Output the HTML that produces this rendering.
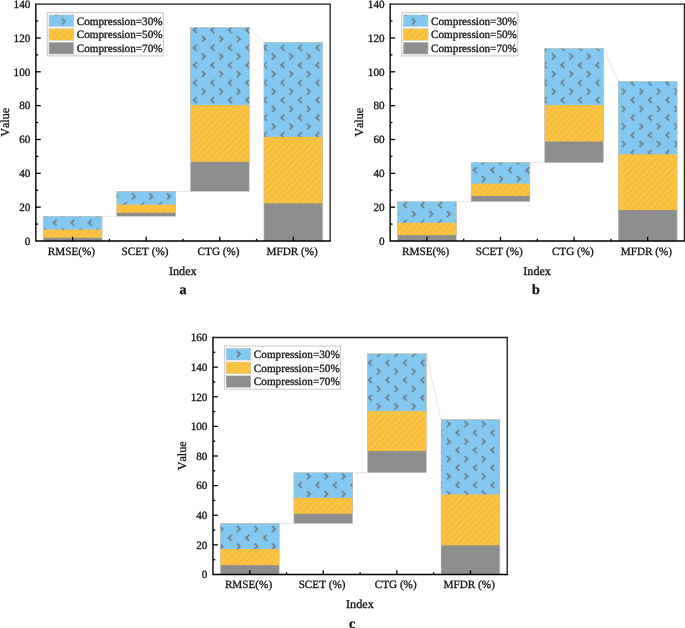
<!DOCTYPE html>
<html><head><meta charset="utf-8"><title>chart</title>
<style>html,body{margin:0;padding:0;background:#fff;}body{width:685px;height:628px;overflow:hidden;font-family:"Liberation Serif",serif;}svg{display:block;will-change:transform;}svg text{stroke:#111;stroke-width:0.3px;font-kerning:none;}</style>
</head><body>
<svg width="685" height="628" viewBox="0 0 685 628" font-family="'Liberation Serif', serif" fill="#111" text-rendering="geometricPrecision">
<defs>
<pattern id="chev" patternUnits="userSpaceOnUse" x="0" y="0" width="17.5" height="17.5">
<rect x="2.85" y="9.55" width="1.5" height="1.5" fill="#646464"/><rect x="1.65" y="10.75" width="1.5" height="1.5" fill="#646464"/><rect x="0.45" y="11.95" width="1.5" height="1.5" fill="#646464"/><rect x="1.65" y="13.15" width="1.5" height="1.5" fill="#646464"/><rect x="2.85" y="14.35" width="1.5" height="1.5" fill="#646464"/>
<rect x="9.35" y="0.85" width="1.5" height="1.5" fill="#646464"/><rect x="10.55" y="2.05" width="1.5" height="1.5" fill="#646464"/><rect x="11.75" y="3.25" width="1.5" height="1.5" fill="#646464"/><rect x="10.55" y="4.45" width="1.5" height="1.5" fill="#646464"/><rect x="9.35" y="5.65" width="1.5" height="1.5" fill="#646464"/>
</pattern>
<pattern id="hatch" patternUnits="userSpaceOnUse" x="0" y="0" width="6.68" height="6.68">
<path d="M-1 7.68 L7.68 -1 M-1 1 L1 -1 M5.68 7.68 L7.68 5.68" fill="none" stroke="#a69c82" stroke-width="0.5" stroke-opacity="0.85"/>
</pattern>
</defs>
<rect width="685" height="628" fill="#fff"/>
<line x1="102.07" y1="216.29" x2="116.78" y2="216.29" stroke="#dcdcdc" stroke-width="0.7"/>
<line x1="175.64" y1="191.42" x2="190.36" y2="191.42" stroke="#dcdcdc" stroke-width="0.7"/>
<line x1="249.22" y1="27.28" x2="263.93" y2="42.17" stroke="#dcdcdc" stroke-width="0.7"/>
<rect x="43.21" y="216.29" width="58.86" height="24.71" fill="#8E8E8E"/>
<rect x="43.21" y="216.29" width="58.86" height="21.49" fill="#FFC43C"/>
<rect x="43.21" y="216.29" width="58.86" height="13.28" fill="#82C8F0"/>
<rect x="43.21" y="229.58" width="58.86" height="8.21" fill="url(#hatch)"/>
<rect x="43.21" y="216.29" width="58.86" height="13.28" fill="url(#chev)"/>
<rect x="43.21" y="216.29" width="58.86" height="24.71" fill="none" stroke="#c8c8c8" stroke-width="0.5"/>
<rect x="116.78" y="191.42" width="58.86" height="24.87" fill="#8E8E8E"/>
<rect x="116.78" y="191.42" width="58.86" height="21.32" fill="#FFC43C"/>
<rect x="116.78" y="191.42" width="58.86" height="13.20" fill="#82C8F0"/>
<rect x="116.78" y="204.62" width="58.86" height="8.12" fill="url(#hatch)"/>
<rect x="116.78" y="191.42" width="58.86" height="13.20" fill="url(#chev)"/>
<rect x="116.78" y="191.42" width="58.86" height="24.87" fill="none" stroke="#c8c8c8" stroke-width="0.5"/>
<rect x="190.36" y="27.28" width="58.86" height="164.14" fill="#8E8E8E"/>
<rect x="190.36" y="27.28" width="58.86" height="134.53" fill="#FFC43C"/>
<rect x="190.36" y="27.28" width="58.86" height="77.84" fill="#82C8F0"/>
<rect x="190.36" y="105.12" width="58.86" height="56.69" fill="url(#hatch)"/>
<rect x="190.36" y="27.28" width="58.86" height="77.84" fill="url(#chev)"/>
<rect x="190.36" y="27.28" width="58.86" height="164.14" fill="none" stroke="#c8c8c8" stroke-width="0.5"/>
<rect x="263.93" y="42.17" width="58.86" height="198.83" fill="#8E8E8E"/>
<rect x="263.93" y="42.17" width="58.86" height="161.09" fill="#FFC43C"/>
<rect x="263.93" y="42.17" width="58.86" height="94.76" fill="#82C8F0"/>
<rect x="263.93" y="136.93" width="58.86" height="66.33" fill="url(#hatch)"/>
<rect x="263.93" y="42.17" width="58.86" height="94.76" fill="url(#chev)"/>
<rect x="263.93" y="42.17" width="58.86" height="198.83" fill="none" stroke="#c8c8c8" stroke-width="0.5"/>
<path d="M35.85 4.10 H330.15 V241.00" fill="none" stroke="#1a1a1a" stroke-width="1.3"/>
<path d="M35.85 3.45 V241.00 H330.80" fill="none" stroke="#000" stroke-width="1.4"/>
<text x="30.35" y="244.75" font-size="11.2" text-anchor="end">0</text>
<line x1="35.85" y1="224.08" x2="38.15" y2="224.08" stroke="#000" stroke-width="1.3"/>
<line x1="35.85" y1="207.16" x2="40.75" y2="207.16" stroke="#000" stroke-width="1.3"/>
<text x="30.35" y="210.91" font-size="11.2" text-anchor="end">20</text>
<line x1="35.85" y1="190.24" x2="38.15" y2="190.24" stroke="#000" stroke-width="1.3"/>
<line x1="35.85" y1="173.31" x2="40.75" y2="173.31" stroke="#000" stroke-width="1.3"/>
<text x="30.35" y="177.06" font-size="11.2" text-anchor="end">40</text>
<line x1="35.85" y1="156.39" x2="38.15" y2="156.39" stroke="#000" stroke-width="1.3"/>
<line x1="35.85" y1="139.47" x2="40.75" y2="139.47" stroke="#000" stroke-width="1.3"/>
<text x="30.35" y="143.22" font-size="11.2" text-anchor="end">60</text>
<line x1="35.85" y1="122.55" x2="38.15" y2="122.55" stroke="#000" stroke-width="1.3"/>
<line x1="35.85" y1="105.63" x2="40.75" y2="105.63" stroke="#000" stroke-width="1.3"/>
<text x="30.35" y="109.38" font-size="11.2" text-anchor="end">80</text>
<line x1="35.85" y1="88.71" x2="38.15" y2="88.71" stroke="#000" stroke-width="1.3"/>
<line x1="35.85" y1="71.79" x2="40.75" y2="71.79" stroke="#000" stroke-width="1.3"/>
<text x="30.35" y="75.54" font-size="11.2" text-anchor="end">100</text>
<line x1="35.85" y1="54.86" x2="38.15" y2="54.86" stroke="#000" stroke-width="1.3"/>
<line x1="35.85" y1="37.94" x2="40.75" y2="37.94" stroke="#000" stroke-width="1.3"/>
<text x="30.35" y="41.69" font-size="11.2" text-anchor="end">120</text>
<line x1="35.85" y1="21.02" x2="38.15" y2="21.02" stroke="#000" stroke-width="1.3"/>
<text x="30.35" y="7.85" font-size="11.2" text-anchor="end">140</text>
<line x1="72.64" y1="241.00" x2="72.64" y2="236.80" stroke="#000" stroke-width="1.3"/>
<text x="71.44" y="254.80" font-size="11.2" text-anchor="middle">RMSE(%)</text>
<line x1="109.43" y1="241.00" x2="109.43" y2="238.80" stroke="#000" stroke-width="1.3"/>
<line x1="146.21" y1="241.00" x2="146.21" y2="236.80" stroke="#000" stroke-width="1.3"/>
<text x="145.01" y="254.80" font-size="11.2" text-anchor="middle">SCET (%)</text>
<line x1="183.00" y1="241.00" x2="183.00" y2="238.80" stroke="#000" stroke-width="1.3"/>
<line x1="219.79" y1="241.00" x2="219.79" y2="236.80" stroke="#000" stroke-width="1.3"/>
<text x="218.59" y="254.80" font-size="11.2" text-anchor="middle">CTG (%)</text>
<line x1="256.58" y1="241.00" x2="256.58" y2="238.80" stroke="#000" stroke-width="1.3"/>
<line x1="293.36" y1="241.00" x2="293.36" y2="236.80" stroke="#000" stroke-width="1.3"/>
<text x="292.16" y="254.80" font-size="11.2" text-anchor="middle">MFDR (%)</text>
<text x="182.80" y="274.60" font-size="12.15" text-anchor="middle">Index</text>
<text x="183.10" y="294.20" font-size="14" font-weight="bold" text-anchor="middle">a</text>
<text transform="translate(9.15 122.35) rotate(-90)" font-size="12.15" text-anchor="middle">Value</text>
<rect x="47.35" y="12.70" width="116" height="43.2" fill="#fff" stroke="#cdcdcd" stroke-width="1.1"/>
<rect x="48.95" y="14.90" width="24.8" height="11.8" fill="#82C8F0"/>
<rect x="48.95" y="14.90" width="24.8" height="11.8" fill="url(#chev)"/>
<rect x="48.95" y="14.90" width="24.8" height="11.8" fill="none" stroke="#c8c8c8" stroke-width="0.5"/>
<text x="76.75" y="24.60" font-size="11.2">Compression=30%</text>
<rect x="48.95" y="28.60" width="24.8" height="11.8" fill="#FFC43C"/>
<rect x="48.95" y="28.60" width="24.8" height="11.8" fill="url(#hatch)"/>
<rect x="48.95" y="28.60" width="24.8" height="11.8" fill="none" stroke="#c8c8c8" stroke-width="0.5"/>
<text x="76.75" y="38.30" font-size="11.2">Compression=50%</text>
<rect x="48.95" y="42.30" width="24.8" height="11.8" fill="#8E8E8E"/>
<rect x="48.95" y="42.30" width="24.8" height="11.8" fill="none" stroke="#c8c8c8" stroke-width="0.5"/>
<text x="76.75" y="52.00" font-size="11.2">Compression=70%</text>
<line x1="456.37" y1="201.66" x2="471.08" y2="201.66" stroke="#dcdcdc" stroke-width="0.7"/>
<line x1="529.94" y1="162.40" x2="544.66" y2="162.65" stroke="#dcdcdc" stroke-width="0.7"/>
<line x1="603.52" y1="48.43" x2="618.23" y2="81.26" stroke="#dcdcdc" stroke-width="0.7"/>
<rect x="397.51" y="201.66" width="58.86" height="39.34" fill="#8E8E8E"/>
<rect x="397.51" y="201.66" width="58.86" height="33.42" fill="#FFC43C"/>
<rect x="397.51" y="201.66" width="58.86" height="21.07" fill="#82C8F0"/>
<rect x="397.51" y="222.72" width="58.86" height="12.35" fill="url(#hatch)"/>
<rect x="397.51" y="201.66" width="58.86" height="21.07" fill="url(#chev)"/>
<rect x="397.51" y="201.66" width="58.86" height="39.34" fill="none" stroke="#c8c8c8" stroke-width="0.5"/>
<rect x="471.08" y="162.40" width="58.86" height="39.26" fill="#8E8E8E"/>
<rect x="471.08" y="162.40" width="58.86" height="33.59" fill="#FFC43C"/>
<rect x="471.08" y="162.40" width="58.86" height="21.24" fill="#82C8F0"/>
<rect x="471.08" y="183.64" width="58.86" height="12.35" fill="url(#hatch)"/>
<rect x="471.08" y="162.40" width="58.86" height="21.24" fill="url(#chev)"/>
<rect x="471.08" y="162.40" width="58.86" height="39.26" fill="none" stroke="#c8c8c8" stroke-width="0.5"/>
<rect x="544.66" y="48.43" width="58.86" height="114.22" fill="#8E8E8E"/>
<rect x="544.66" y="48.43" width="58.86" height="93.07" fill="#FFC43C"/>
<rect x="544.66" y="48.43" width="58.86" height="56.69" fill="#82C8F0"/>
<rect x="544.66" y="105.12" width="58.86" height="36.38" fill="url(#hatch)"/>
<rect x="544.66" y="48.43" width="58.86" height="56.69" fill="url(#chev)"/>
<rect x="544.66" y="48.43" width="58.86" height="114.22" fill="none" stroke="#c8c8c8" stroke-width="0.5"/>
<rect x="618.23" y="81.26" width="58.86" height="159.74" fill="#8E8E8E"/>
<rect x="618.23" y="81.26" width="58.86" height="128.77" fill="#FFC43C"/>
<rect x="618.23" y="81.26" width="58.86" height="73.10" fill="#82C8F0"/>
<rect x="618.23" y="154.36" width="58.86" height="55.67" fill="url(#hatch)"/>
<rect x="618.23" y="81.26" width="58.86" height="73.10" fill="url(#chev)"/>
<rect x="618.23" y="81.26" width="58.86" height="159.74" fill="none" stroke="#c8c8c8" stroke-width="0.5"/>
<path d="M390.15 4.10 H684.45 V241.00" fill="none" stroke="#1a1a1a" stroke-width="1.3"/>
<path d="M390.15 3.45 V241.00 H685.10" fill="none" stroke="#000" stroke-width="1.4"/>
<text x="384.65" y="244.75" font-size="11.2" text-anchor="end">0</text>
<line x1="390.15" y1="224.08" x2="392.45" y2="224.08" stroke="#000" stroke-width="1.3"/>
<line x1="390.15" y1="207.16" x2="395.05" y2="207.16" stroke="#000" stroke-width="1.3"/>
<text x="384.65" y="210.91" font-size="11.2" text-anchor="end">20</text>
<line x1="390.15" y1="190.24" x2="392.45" y2="190.24" stroke="#000" stroke-width="1.3"/>
<line x1="390.15" y1="173.31" x2="395.05" y2="173.31" stroke="#000" stroke-width="1.3"/>
<text x="384.65" y="177.06" font-size="11.2" text-anchor="end">40</text>
<line x1="390.15" y1="156.39" x2="392.45" y2="156.39" stroke="#000" stroke-width="1.3"/>
<line x1="390.15" y1="139.47" x2="395.05" y2="139.47" stroke="#000" stroke-width="1.3"/>
<text x="384.65" y="143.22" font-size="11.2" text-anchor="end">60</text>
<line x1="390.15" y1="122.55" x2="392.45" y2="122.55" stroke="#000" stroke-width="1.3"/>
<line x1="390.15" y1="105.63" x2="395.05" y2="105.63" stroke="#000" stroke-width="1.3"/>
<text x="384.65" y="109.38" font-size="11.2" text-anchor="end">80</text>
<line x1="390.15" y1="88.71" x2="392.45" y2="88.71" stroke="#000" stroke-width="1.3"/>
<line x1="390.15" y1="71.79" x2="395.05" y2="71.79" stroke="#000" stroke-width="1.3"/>
<text x="384.65" y="75.54" font-size="11.2" text-anchor="end">100</text>
<line x1="390.15" y1="54.86" x2="392.45" y2="54.86" stroke="#000" stroke-width="1.3"/>
<line x1="390.15" y1="37.94" x2="395.05" y2="37.94" stroke="#000" stroke-width="1.3"/>
<text x="384.65" y="41.69" font-size="11.2" text-anchor="end">120</text>
<line x1="390.15" y1="21.02" x2="392.45" y2="21.02" stroke="#000" stroke-width="1.3"/>
<text x="384.65" y="7.85" font-size="11.2" text-anchor="end">140</text>
<line x1="426.94" y1="241.00" x2="426.94" y2="236.80" stroke="#000" stroke-width="1.3"/>
<text x="425.74" y="254.80" font-size="11.2" text-anchor="middle">RMSE(%)</text>
<line x1="463.72" y1="241.00" x2="463.72" y2="238.80" stroke="#000" stroke-width="1.3"/>
<line x1="500.51" y1="241.00" x2="500.51" y2="236.80" stroke="#000" stroke-width="1.3"/>
<text x="499.31" y="254.80" font-size="11.2" text-anchor="middle">SCET (%)</text>
<line x1="537.30" y1="241.00" x2="537.30" y2="238.80" stroke="#000" stroke-width="1.3"/>
<line x1="574.09" y1="241.00" x2="574.09" y2="236.80" stroke="#000" stroke-width="1.3"/>
<text x="572.89" y="254.80" font-size="11.2" text-anchor="middle">CTG (%)</text>
<line x1="610.88" y1="241.00" x2="610.88" y2="238.80" stroke="#000" stroke-width="1.3"/>
<line x1="647.66" y1="241.00" x2="647.66" y2="236.80" stroke="#000" stroke-width="1.3"/>
<text x="646.46" y="254.80" font-size="11.2" text-anchor="middle">MFDR (%)</text>
<text x="537.10" y="274.60" font-size="12.15" text-anchor="middle">Index</text>
<text x="535.90" y="294.20" font-size="14" font-weight="bold" text-anchor="middle">b</text>
<text transform="translate(363.45 122.35) rotate(-90)" font-size="12.15" text-anchor="middle">Value</text>
<rect x="401.65" y="12.70" width="116" height="43.2" fill="#fff" stroke="#cdcdcd" stroke-width="1.1"/>
<rect x="403.25" y="14.90" width="24.8" height="11.8" fill="#82C8F0"/>
<rect x="403.25" y="14.90" width="24.8" height="11.8" fill="url(#chev)"/>
<rect x="403.25" y="14.90" width="24.8" height="11.8" fill="none" stroke="#c8c8c8" stroke-width="0.5"/>
<text x="431.05" y="24.60" font-size="11.2">Compression=30%</text>
<rect x="403.25" y="28.60" width="24.8" height="11.8" fill="#FFC43C"/>
<rect x="403.25" y="28.60" width="24.8" height="11.8" fill="url(#hatch)"/>
<rect x="403.25" y="28.60" width="24.8" height="11.8" fill="none" stroke="#c8c8c8" stroke-width="0.5"/>
<text x="431.05" y="38.30" font-size="11.2">Compression=50%</text>
<rect x="403.25" y="42.30" width="24.8" height="11.8" fill="#8E8E8E"/>
<rect x="403.25" y="42.30" width="24.8" height="11.8" fill="none" stroke="#c8c8c8" stroke-width="0.5"/>
<text x="431.05" y="52.00" font-size="11.2">Compression=70%</text>
<line x1="279.17" y1="523.40" x2="293.88" y2="523.40" stroke="#dcdcdc" stroke-width="0.7"/>
<line x1="352.74" y1="472.74" x2="367.46" y2="472.74" stroke="#dcdcdc" stroke-width="0.7"/>
<line x1="426.32" y1="353.79" x2="441.03" y2="419.56" stroke="#dcdcdc" stroke-width="0.7"/>
<rect x="220.31" y="523.40" width="58.86" height="51.10" fill="#8E8E8E"/>
<rect x="220.31" y="523.40" width="58.86" height="41.77" fill="#FFC43C"/>
<rect x="220.31" y="523.40" width="58.86" height="25.63" fill="#82C8F0"/>
<rect x="220.31" y="549.02" width="58.86" height="16.15" fill="url(#hatch)"/>
<rect x="220.31" y="523.40" width="58.86" height="25.63" fill="url(#chev)"/>
<rect x="220.31" y="523.40" width="58.86" height="51.10" fill="none" stroke="#c8c8c8" stroke-width="0.5"/>
<rect x="293.88" y="472.74" width="58.86" height="50.66" fill="#8E8E8E"/>
<rect x="293.88" y="472.74" width="58.86" height="41.03" fill="#FFC43C"/>
<rect x="293.88" y="472.74" width="58.86" height="25.18" fill="#82C8F0"/>
<rect x="293.88" y="497.92" width="58.86" height="15.85" fill="url(#hatch)"/>
<rect x="293.88" y="472.74" width="58.86" height="25.18" fill="url(#chev)"/>
<rect x="293.88" y="472.74" width="58.86" height="50.66" fill="none" stroke="#c8c8c8" stroke-width="0.5"/>
<rect x="367.46" y="353.79" width="58.86" height="118.94" fill="#8E8E8E"/>
<rect x="367.46" y="353.79" width="58.86" height="97.17" fill="#FFC43C"/>
<rect x="367.46" y="353.79" width="58.86" height="57.32" fill="#82C8F0"/>
<rect x="367.46" y="411.12" width="58.86" height="39.85" fill="url(#hatch)"/>
<rect x="367.46" y="353.79" width="58.86" height="57.32" fill="url(#chev)"/>
<rect x="367.46" y="353.79" width="58.86" height="118.94" fill="none" stroke="#c8c8c8" stroke-width="0.5"/>
<rect x="441.03" y="419.56" width="58.86" height="154.94" fill="#8E8E8E"/>
<rect x="441.03" y="419.56" width="58.86" height="125.76" fill="#FFC43C"/>
<rect x="441.03" y="419.56" width="58.86" height="74.95" fill="#82C8F0"/>
<rect x="441.03" y="494.51" width="58.86" height="50.81" fill="url(#hatch)"/>
<rect x="441.03" y="419.56" width="58.86" height="74.95" fill="url(#chev)"/>
<rect x="441.03" y="419.56" width="58.86" height="154.94" fill="none" stroke="#c8c8c8" stroke-width="0.5"/>
<path d="M212.95 337.50 H507.25 V574.50" fill="none" stroke="#1a1a1a" stroke-width="1.3"/>
<path d="M212.95 336.85 V574.50 H507.90" fill="none" stroke="#000" stroke-width="1.4"/>
<text x="207.45" y="578.25" font-size="11.2" text-anchor="end">0</text>
<line x1="212.95" y1="559.69" x2="215.25" y2="559.69" stroke="#000" stroke-width="1.3"/>
<line x1="212.95" y1="544.88" x2="217.85" y2="544.88" stroke="#000" stroke-width="1.3"/>
<text x="207.45" y="548.62" font-size="11.2" text-anchor="end">20</text>
<line x1="212.95" y1="530.06" x2="215.25" y2="530.06" stroke="#000" stroke-width="1.3"/>
<line x1="212.95" y1="515.25" x2="217.85" y2="515.25" stroke="#000" stroke-width="1.3"/>
<text x="207.45" y="519.00" font-size="11.2" text-anchor="end">40</text>
<line x1="212.95" y1="500.44" x2="215.25" y2="500.44" stroke="#000" stroke-width="1.3"/>
<line x1="212.95" y1="485.62" x2="217.85" y2="485.62" stroke="#000" stroke-width="1.3"/>
<text x="207.45" y="489.38" font-size="11.2" text-anchor="end">60</text>
<line x1="212.95" y1="470.81" x2="215.25" y2="470.81" stroke="#000" stroke-width="1.3"/>
<line x1="212.95" y1="456.00" x2="217.85" y2="456.00" stroke="#000" stroke-width="1.3"/>
<text x="207.45" y="459.75" font-size="11.2" text-anchor="end">80</text>
<line x1="212.95" y1="441.19" x2="215.25" y2="441.19" stroke="#000" stroke-width="1.3"/>
<line x1="212.95" y1="426.38" x2="217.85" y2="426.38" stroke="#000" stroke-width="1.3"/>
<text x="207.45" y="430.12" font-size="11.2" text-anchor="end">100</text>
<line x1="212.95" y1="411.56" x2="215.25" y2="411.56" stroke="#000" stroke-width="1.3"/>
<line x1="212.95" y1="396.75" x2="217.85" y2="396.75" stroke="#000" stroke-width="1.3"/>
<text x="207.45" y="400.50" font-size="11.2" text-anchor="end">120</text>
<line x1="212.95" y1="381.94" x2="215.25" y2="381.94" stroke="#000" stroke-width="1.3"/>
<line x1="212.95" y1="367.12" x2="217.85" y2="367.12" stroke="#000" stroke-width="1.3"/>
<text x="207.45" y="370.88" font-size="11.2" text-anchor="end">140</text>
<line x1="212.95" y1="352.31" x2="215.25" y2="352.31" stroke="#000" stroke-width="1.3"/>
<text x="207.45" y="341.25" font-size="11.2" text-anchor="end">160</text>
<line x1="249.74" y1="574.50" x2="249.74" y2="570.30" stroke="#000" stroke-width="1.3"/>
<text x="248.54" y="588.30" font-size="11.2" text-anchor="middle">RMSE(%)</text>
<line x1="286.52" y1="574.50" x2="286.52" y2="572.30" stroke="#000" stroke-width="1.3"/>
<line x1="323.31" y1="574.50" x2="323.31" y2="570.30" stroke="#000" stroke-width="1.3"/>
<text x="322.11" y="588.30" font-size="11.2" text-anchor="middle">SCET (%)</text>
<line x1="360.10" y1="574.50" x2="360.10" y2="572.30" stroke="#000" stroke-width="1.3"/>
<line x1="396.89" y1="574.50" x2="396.89" y2="570.30" stroke="#000" stroke-width="1.3"/>
<text x="395.69" y="588.30" font-size="11.2" text-anchor="middle">CTG (%)</text>
<line x1="433.68" y1="574.50" x2="433.68" y2="572.30" stroke="#000" stroke-width="1.3"/>
<line x1="470.46" y1="574.50" x2="470.46" y2="570.30" stroke="#000" stroke-width="1.3"/>
<text x="469.26" y="588.30" font-size="11.2" text-anchor="middle">MFDR (%)</text>
<text x="359.90" y="608.10" font-size="12.15" text-anchor="middle">Index</text>
<text x="352.00" y="627.70" font-size="14" font-weight="bold" text-anchor="middle">c</text>
<text transform="translate(186.25 455.80) rotate(-90)" font-size="12.15" text-anchor="middle">Value</text>
<rect x="224.45" y="346.10" width="116" height="43.2" fill="#fff" stroke="#cdcdcd" stroke-width="1.1"/>
<rect x="226.05" y="348.30" width="24.8" height="11.8" fill="#82C8F0"/>
<rect x="226.05" y="348.30" width="24.8" height="11.8" fill="url(#chev)"/>
<rect x="226.05" y="348.30" width="24.8" height="11.8" fill="none" stroke="#c8c8c8" stroke-width="0.5"/>
<text x="253.85" y="358.00" font-size="11.2">Compression=30%</text>
<rect x="226.05" y="362.00" width="24.8" height="11.8" fill="#FFC43C"/>
<rect x="226.05" y="362.00" width="24.8" height="11.8" fill="url(#hatch)"/>
<rect x="226.05" y="362.00" width="24.8" height="11.8" fill="none" stroke="#c8c8c8" stroke-width="0.5"/>
<text x="253.85" y="371.70" font-size="11.2">Compression=50%</text>
<rect x="226.05" y="375.70" width="24.8" height="11.8" fill="#8E8E8E"/>
<rect x="226.05" y="375.70" width="24.8" height="11.8" fill="none" stroke="#c8c8c8" stroke-width="0.5"/>
<text x="253.85" y="385.40" font-size="11.2">Compression=70%</text>
</svg>
</body></html>
